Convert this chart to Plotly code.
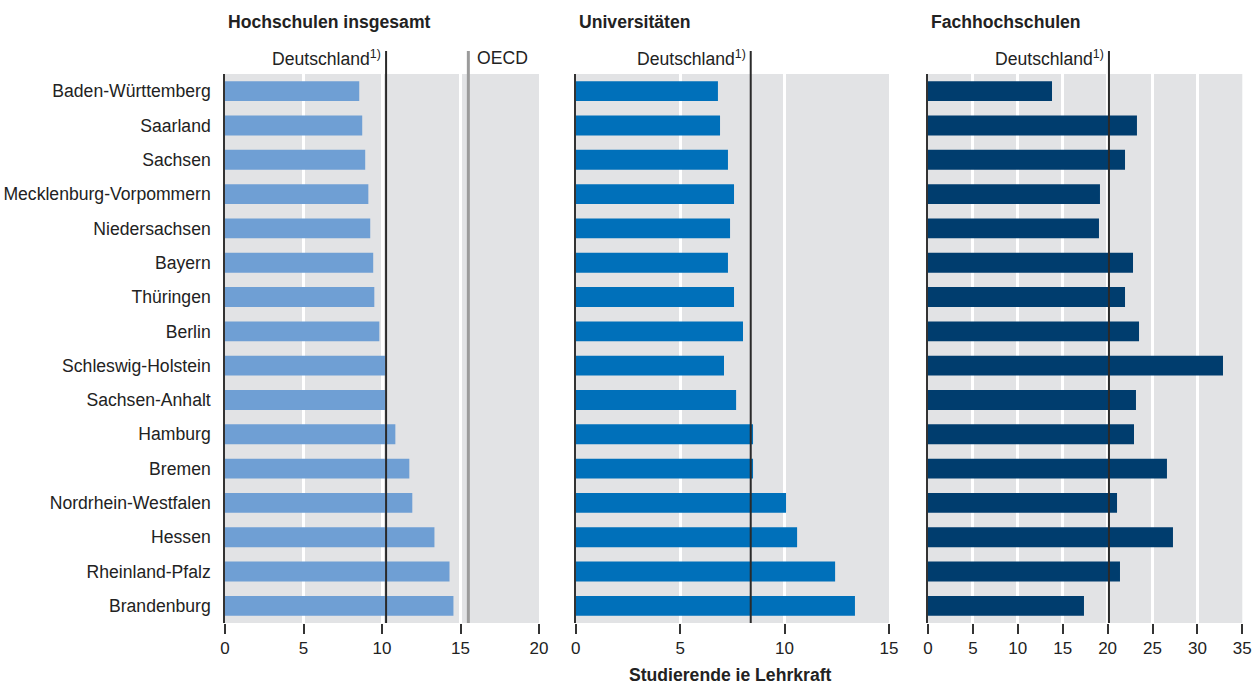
import plotly.graph_objects as go

W, H = 1252, 685

categories = ["Baden-Württemberg", "Saarland", "Sachsen", "Mecklenburg-Vorpommern",
              "Niedersachsen", "Bayern", "Thüringen", "Berlin", "Schleswig-Holstein",
              "Sachsen-Anhalt", "Hamburg", "Bremen", "Nordrhein-Westfalen", "Hessen",
              "Rheinland-Pfalz", "Brandenburg"]

hochschulen = [8.55, 8.74, 8.93, 9.13, 9.25, 9.44, 9.51, 9.83, 10.21, 10.21,
               10.85, 11.74, 11.93, 13.34, 14.3, 14.55]
universitaeten = [6.81, 6.91, 7.29, 7.58, 7.39, 7.29, 7.58, 8.01, 7.10, 7.68,
                  8.49, 8.49, 10.07, 10.6, 12.42, 13.37]
fachhochschulen = [13.81, 23.27, 21.94, 19.15, 19.04, 22.83, 21.94, 23.5, 32.85, 23.16,
                   22.94, 26.61, 21.05, 27.28, 21.38, 17.37]

de_hochschulen = 10.26
oecd_hochschulen = 15.5
de_universitaeten = 8.38
de_fachhochschulen = 20.15

panel_titles = ["Hochschulen insgesamt", "Universitäten", "Fachhochschulen"]
ref_label = "Deutschland<sup>1)</sup>"
oecd_label = "OECD"
x_title = "Studierende ie Lehrkraft"

colors = ["#6F9FD4", "#0070BA", "#003D6E"]
FONT = "Liberation Sans, Arial, sans-serif"
TXT = "#222222"
FS = 17.6

def px_x(p):
    return p / W

def px_y(p):
    return (H - p) / H

domains = [(225, 539), (575.7, 889), (928, 1242.3)]
ranges = [[0, 20], [0, 15], [0, 35]]
dticks = [5, 5, 5]
y_dom = [px_y(623), px_y(74)]

fig = go.Figure()
series = [hochschulen, universitaeten, fachhochschulen]
for i, vals in enumerate(series):
    sfx = "" if i == 0 else str(i + 1)
    fig.add_trace(go.Bar(
        x=vals, y=categories, orientation="h",
        marker=dict(color=colors[i], line=dict(width=0)),
        xaxis="x" + sfx, yaxis="y" + sfx, showlegend=False, hoverinfo="x+y",
    ))

layout = dict(
    template="none",
    width=W, height=H,
    margin=dict(l=0, r=0, t=0, b=0, pad=0),
    paper_bgcolor="white",
    plot_bgcolor="#E2E3E5",
    bargap=0.42,
    font=dict(family=FONT, size=FS, color=TXT),
    showlegend=False,
)

for i in range(3):
    sfx = "" if i == 0 else str(i + 1)
    layout["xaxis" + sfx] = dict(
        domain=[px_x(domains[i][0]), px_x(domains[i][1])],
        range=ranges[i], dtick=dticks[i], tick0=0,
        anchor="y" + sfx, automargin=False, ticklabeloverflow="allow",
        showgrid=True, gridcolor="white", gridwidth=2.5,
        zeroline=False, showline=False,
        ticks="outside", ticklen=10, tickwidth=1.5, tickcolor="#333333",
        tickfont=dict(family=FONT, size=17, color=TXT),
        fixedrange=True,
    )
    layout["yaxis" + sfx] = dict(
        domain=y_dom,
        anchor="x" + sfx, automargin=False,
        categoryorder="array", categoryarray=categories,
        autorange="reversed",
        showgrid=False, zeroline=False,
        showline=True, linecolor="#333333", linewidth=1.5,
        showticklabels=(i == 0),
        ticks="", ticklabelstandoff=9,
        tickfont=dict(family=FONT, size=FS, color=TXT),
        fixedrange=True,
    )

fig.update_layout(**layout)

line_top = px_y(51)
line_bot = px_y(623)
shapes = []
annotations = []
refs = [("x", de_hochschulen), ("x2", de_universitaeten), ("x3", de_fachhochschulen)]
for xr, v in refs:
    shapes.append(dict(type="line", xref=xr, yref="paper", x0=v, x1=v,
                       y0=line_bot, y1=line_top,
                       line=dict(color="#2A2A2A", width=2)))
    annotations.append(dict(text=ref_label, xref=xr, yref="paper", x=v, y=px_y(58),
                            xanchor="right", yanchor="middle", xshift=-3,
                            showarrow=False, font=dict(family=FONT, size=FS, color=TXT)))
shapes.append(dict(type="line", xref="x", yref="paper", x0=oecd_hochschulen, x1=oecd_hochschulen,
                   y0=line_bot, y1=line_top, line=dict(color="#9B9B9B", width=3)))
annotations.append(dict(text=oecd_label, xref="x", yref="paper", x=oecd_hochschulen, y=px_y(58),
                        xanchor="left", yanchor="middle", xshift=7,
                        showarrow=False, font=dict(family=FONT, size=FS, color=TXT)))

for i, t in enumerate(panel_titles):
    annotations.append(dict(text="<b>" + t + "</b>", xref="paper", yref="paper",
                            x=px_x(domains[i][0] + 1), y=px_y(22),
                            xanchor="left", yanchor="middle", showarrow=False,
                            font=dict(family=FONT, size=FS, color=TXT)))

annotations.append(dict(text="<b>" + x_title + "</b>", xref="paper", yref="paper",
                        x=px_x(731), y=px_y(675), xanchor="center", yanchor="middle",
                        showarrow=False, font=dict(family=FONT, size=FS, color=TXT)))

fig.update_layout(shapes=shapes, annotations=annotations)
fig.write_html("out.html",
               config={"displayModeBar": False, "responsive": False},
               post_script="document.body.style.margin='0';document.body.style.overflow='hidden';")
